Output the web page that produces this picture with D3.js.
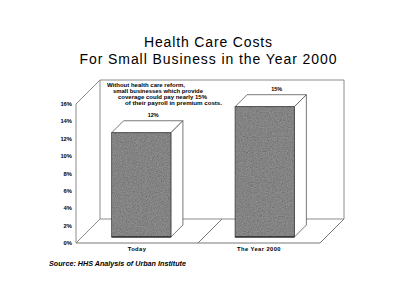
<!DOCTYPE html>
<html>
<head>
<meta charset="utf-8">
<script src="https://cdn.jsdelivr.net/npm/d3@7"></script>
<style>
  body { margin: 0; background: #fff; }
  svg { display: block; font-family: "Liberation Sans", Arial, sans-serif; }
</style>
</head>
<body>
<div id="chart"></div>
<script>

const titleLines = ["Health Care Costs", "For Small Business in the Year 2000"];
const categories = ["Today", "The Year 2000"];
const values = [12, 15];
const valueLabels = ["12%", "15%"];
const yTicks = [0, 2, 4, 6, 8, 10, 12, 14, 16];
const noteLines = [
    "Without health care reform,",
    "small businesses which provide",
    "coverage could pay nearly 15%",
    "of their payroll in premium costs."
];
const sourceText = "Source: HHS Analysis of Urban Institute";

const W = 400, H = 305;
const depth = 24;          // total depth of the 3d box
const barFront = 6, barBack = 18;

const svg = d3.select("#chart").append("svg")
    .attr("width", W)
    .attr("height", H);

// grainy gray for the bar fronts
const defs = svg.append("defs");
const grain = defs.append("filter").attr("id", "grain")
    .attr("x", 0).attr("y", 0).attr("width", 1).attr("height", 1);
grain.append("feTurbulence")
    .attr("type", "fractalNoise").attr("baseFrequency", 0.8)
    .attr("numOctaves", 2).attr("seed", 7).attr("result", "noise");
grain.append("feColorMatrix").attr("in", "noise").attr("type", "matrix")
    .attr("values", "0.33 0.33 0.33 0 0  0.33 0.33 0.33 0 0  0.33 0.33 0.33 0 0  0 0 0 0 1")
    .attr("result", "gray");
grain.append("feComposite").attr("in", "SourceGraphic").attr("in2", "gray")
    .attr("operator", "arithmetic")
    .attr("k1", 0).attr("k2", 1).attr("k3", 0.38).attr("k4", -0.17)
    .attr("result", "mix");
grain.append("feComposite").attr("in", "mix").attr("in2", "SourceGraphic")
    .attr("operator", "in");

const y = d3.scaleLinear().domain([0, 16]).range([243, 104]);
const xBand = d3.scaleBand().domain(categories).range([76, 320]);
const x = d3.scaleBand().domain(categories).range([76, 318])
    .paddingInner(0.52).paddingOuter(0.24);

// point in plane coords pushed back by d
const p = (px, py, d) => [px + d, py - d];
const line = d3.line();

const x0 = xBand.range()[0], x1 = xBand.range()[1];
const yTop = y(16), yBase = y(0);

// walls and floor
const box = svg.append("g").attr("fill", "none").attr("stroke", "#8c8c8c").attr("stroke-width", 1);
box.append("path").attr("d", line([p(x0, yTop, depth), p(x1, yTop, depth), p(x1, yBase, depth), p(x0, yBase, depth), p(x0, yTop, depth)]));
box.append("path").attr("d", line([p(x0, yTop, depth), p(x0, yTop, 0), p(x0, yBase, 0), p(x0, yBase, depth)]));
box.append("path").attr("stroke", "#777")
    .attr("d", line([p(x0, yBase, 0), p(x1, yBase, 0), p(x1, yBase, depth)]));
box.selectAll(".sep")
    .data(categories.slice(1))
    .join("path")
    .attr("class", "sep")
    .attr("stroke", "#777")
    .attr("d", c => line([p(xBand(c), yBase, 0), p(xBand(c), yBase, depth)]));

// bars
const bars = svg.selectAll(".bar")
    .data(categories.map((c, i) => ({ c, v: values[i], label: valueLabels[i] })))
    .join("g")
    .attr("class", "bar");

bars.append("path")
    .attr("fill", "#fff").attr("stroke", "#555").attr("stroke-width", 0.8)
    .attr("d", d => {
        const a = x(d.c), b = x(d.c) + x.bandwidth();
        return line([p(a, y(d.v), barFront), p(b, y(d.v), barFront), p(b, y(d.v), barBack), p(a, y(d.v), barBack)]) + "Z";
    });
bars.append("path")
    .attr("fill", "#fff").attr("stroke", "#555").attr("stroke-width", 0.8)
    .attr("d", d => {
        const b = x(d.c) + x.bandwidth();
        return line([p(b, y(d.v), barFront), p(b, y(d.v), barBack), p(b, y(0), barBack), p(b, y(0), barFront)]) + "Z";
    });
bars.append("rect")
    .attr("x", d => x(d.c) + barFront)
    .attr("y", d => y(d.v) - barFront)
    .attr("width", x.bandwidth())
    .attr("height", d => y(0) - y(d.v))
    .attr("fill", "#7e7e7e")
    .attr("filter", "url(#grain)");
bars.append("rect")
    .attr("x", d => x(d.c) + barFront)
    .attr("y", d => y(d.v) - barFront)
    .attr("width", x.bandwidth())
    .attr("height", d => y(0) - y(d.v))
    .attr("fill", "none").attr("stroke", "#444").attr("stroke-width", 0.8);
bars.append("path")
    .attr("stroke", "#111").attr("stroke-width", 1.2)
    .attr("d", d => line([p(x(d.c), y(0), barFront), p(x(d.c) + x.bandwidth(), y(0), barFront)]));

bars.append("text")
    .attr("x", d => x(d.c) + x.bandwidth() / 2 + barBack)
    .attr("y", d => y(d.v) - barBack - 4)
    .attr("text-anchor", "middle")
    .attr("font-size", 5.5).attr("font-weight", "bold")
    .text(d => d.label);

// y axis labels
svg.append("g").selectAll("text")
    .data(yTicks)
    .join("text")
    .attr("x", 72)
    .attr("y", d => y(d) + 2)
    .attr("text-anchor", "end")
    .attr("font-size", 5.8).attr("font-weight", "bold")
    .text(d => d + "%");

// category labels
svg.append("g").selectAll("text")
    .data(categories)
    .join("text")
    .attr("x", d => xBand(d) + xBand.bandwidth() / 2)
    .attr("y", 251)
    .attr("text-anchor", "middle")
    .attr("font-size", 5.8).attr("font-weight", "bold")
    .attr("letter-spacing", 0.4)
    .text(d => d);

// note
const noteX = [107, 113, 118, 125];
const noteW = [78, 90, 89, 97];
svg.append("g").selectAll("text")
    .data(noteLines)
    .join("text")
    .attr("x", (d, i) => noteX[i])
    .attr("y", (d, i) => 87 + i * 6)
    .attr("font-size", 5.8).attr("font-weight", "bold")
    .attr("textLength", (d, i) => noteW[i])
    .attr("lengthAdjust", "spacingAndGlyphs")
    .text(d => d);

// title
const titleW = [128, 257];
svg.append("g").selectAll("text")
    .data(titleLines)
    .join("text")
    .attr("x", 208)
    .attr("y", (d, i) => 47 + i * 17)
    .attr("text-anchor", "middle")
    .attr("font-size", 14)
    .attr("textLength", (d, i) => titleW[i])
    .attr("lengthAdjust", "spacing")
    .text(d => d);

svg.append("text")
    .attr("x", 49)
    .attr("y", 266)
    .attr("font-size", 6.8).attr("font-weight", "bold").attr("font-style", "italic")
    .attr("textLength", 137)
    .attr("lengthAdjust", "spacingAndGlyphs")
    .text(sourceText);

</script>
</body>
</html>
